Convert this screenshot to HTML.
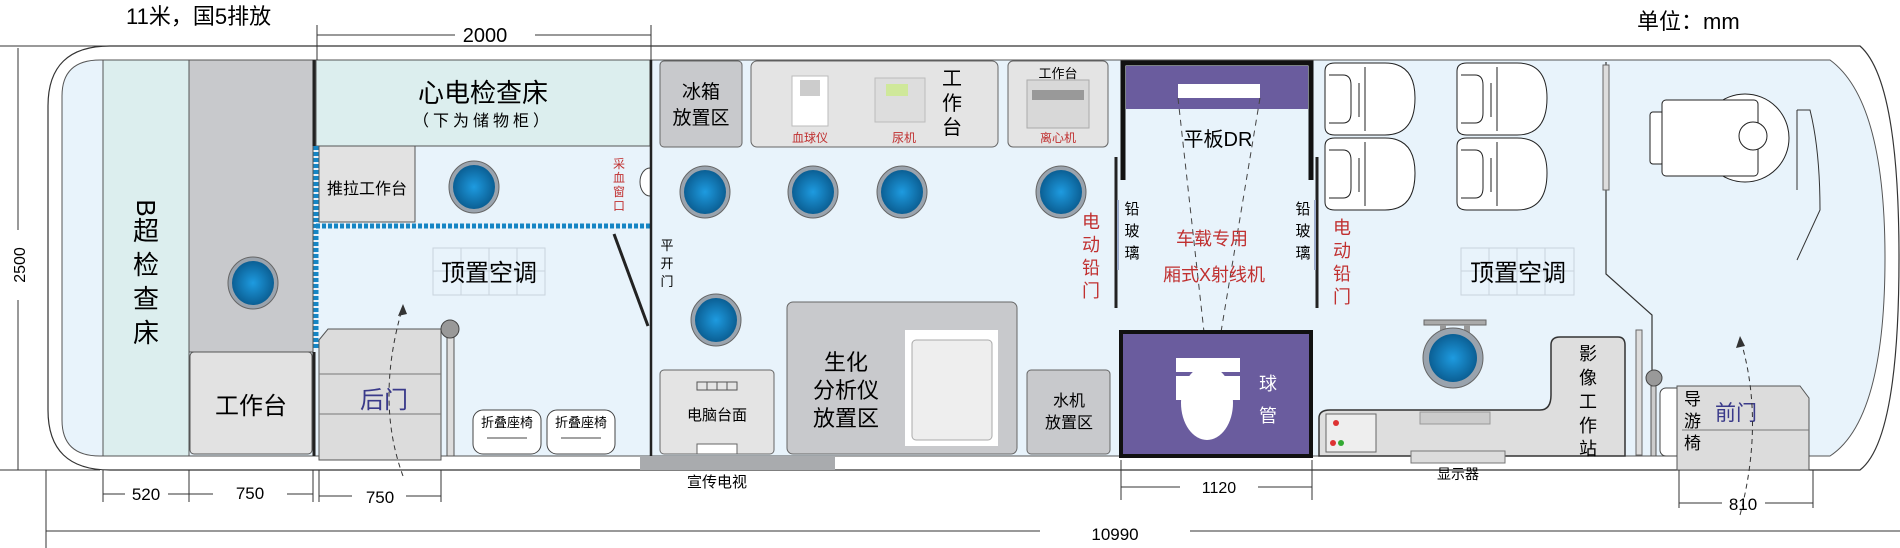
<!DOCTYPE html>
<html><head><meta charset="utf-8"><style>
html,body{margin:0;padding:0;background:#fff;}
svg{display:block;}
text{font-family:"Liberation Sans","Noto Sans CJK SC",sans-serif;}
</style></head><body>
<svg width="1900" height="548" viewBox="0 0 1900 548" xmlns="http://www.w3.org/2000/svg">
<defs>
<radialGradient id="bl" cx="50%" cy="50%" r="50%"><stop offset="0" stop-color="#1e9be0"/><stop offset="1" stop-color="#0b5f94"/></radialGradient>
<g id="lamp"><ellipse cx="0" cy="0" rx="25" ry="26" fill="#9aa3ad" stroke="#666" stroke-width="1"/><ellipse cx="0" cy="0" rx="21" ry="22" fill="url(#bl)"/></g>
<g id="seat"><path d="M0 8 Q0 0 10 0 L60 0 Q90 0 90 35 Q90 72 60 72 L10 72 Q0 72 0 64 Z" fill="#fff" stroke="#222" stroke-width="1"/><path d="M4 12 L18 12 Q26 12 26 22 L26 50 Q26 60 18 60 L4 60" fill="none" stroke="#222"/><line x1="34" y1="20" x2="34" y2="54" stroke="#222"/><line x1="40" y1="4" x2="40" y2="68" stroke="#222"/></g>
</defs>
<rect width="1900" height="548" fill="#fff"/>
<text x="126" y="24" font-size="22" font-family="Liberation Serif,Noto Serif CJK SC,serif">11米，国5排放</text>
<text x="1637" y="29" font-size="22">单位：mm</text>
<path d="M110 46 L1860 46 Q1899 80 1899 258 Q1899 440 1860 470 L110 470 Q48 470 48 410 L48 106 Q48 46 110 46 Z" fill="#fff" stroke="#333" stroke-width="1.2"/>
<path d="M100 60 L1830 60 Q1885 100 1885 258 Q1885 420 1830 456 L100 456 Q62 456 62 420 L62 96 Q62 60 100 60 Z" fill="#e8f3fb" stroke="#555" stroke-width="1"/>
<rect x="103" y="60" width="86" height="396" fill="#dceeee" stroke="#555"/>
<text transform="translate(146,208) rotate(90)" font-size="26" text-anchor="middle" dominant-baseline="central">B</text>
<text x="146" y="240" font-size="26" text-anchor="middle">超</text>
<text x="146" y="274" font-size="26" text-anchor="middle">检</text>
<text x="146" y="308" font-size="26" text-anchor="middle">查</text>
<text x="146" y="342" font-size="26" text-anchor="middle">床</text>
<rect x="189" y="60" width="124" height="292" fill="#c8c9cc" stroke="#555"/>
<use href="#lamp" x="253" y="283"/>
<rect x="190" y="352" width="122" height="102" rx="4" fill="#e2e2e2" stroke="#555"/>
<text x="251" y="414" font-size="24" text-anchor="middle">工作台</text>
<line x1="314" y1="60" x2="314" y2="146" stroke="#222" stroke-width="3"/>
<line x1="314" y1="352" x2="314" y2="456" stroke="#222" stroke-width="3"/>
<rect x="316" y="60" width="334" height="86" fill="#dceeee" stroke="#555"/>
<text x="483" y="102" font-size="26" text-anchor="middle">心电检查床</text>
<text x="483" y="126" font-size="16" text-anchor="middle" letter-spacing="4">（下为储物柜）</text>
<rect x="319" y="146" width="96" height="76" fill="#e2e2e2" stroke="#555"/>
<text x="367" y="194" font-size="16" text-anchor="middle">推拉工作台</text>
<use href="#lamp" x="474" y="187"/>
<text x="619" y="168" font-size="12" fill="#c03030" text-anchor="middle">采</text>
<text x="619" y="182" font-size="12" fill="#c03030" text-anchor="middle">血</text>
<text x="619" y="196" font-size="12" fill="#c03030" text-anchor="middle">窗</text>
<text x="619" y="210" font-size="12" fill="#c03030" text-anchor="middle">口</text>
<path d="M650 168 A10 14 0 0 0 650 196" fill="#fff" stroke="#444"/>
<line x1="316" y1="226" x2="650" y2="226" stroke="#1585c4" stroke-width="5" stroke-dasharray="4 2"/>
<line x1="316" y1="146" x2="316" y2="350" stroke="#1585c4" stroke-width="5" stroke-dasharray="4 2"/>
<g stroke="#c9d3dc" fill="none"><rect x="433" y="248" width="112" height="47"/><line x1="461" y1="248" x2="461" y2="295"/><line x1="489" y1="248" x2="489" y2="295"/><line x1="517" y1="248" x2="517" y2="295"/><line x1="433" y1="271" x2="545" y2="271"/></g>
<text x="489" y="281" font-size="24" text-anchor="middle">顶置空调</text>
<path d="M319 340 L328 329 L441 329 L441 460 L319 460 Z" fill="#dcdcdc" stroke="#555"/>
<line x1="319" y1="374" x2="441" y2="374" stroke="#777"/>
<line x1="319" y1="414" x2="441" y2="414" stroke="#777"/>
<text x="384" y="408" font-size="24" fill="#3a3a8a" text-anchor="middle">后门</text>
<path d="M403 476 Q375 400 403 306" fill="none" stroke="#333" stroke-dasharray="5 4"/>
<path d="M403 304 L398 316 L407 314 Z" fill="#333"/>
<rect x="447" y="332" width="7" height="124" fill="#ddd" stroke="#555"/>
<circle cx="450" cy="329" r="9" fill="#999" stroke="#444"/>
<g fill="#fff" stroke="#444"><rect x="473" y="410" width="68" height="44" rx="10"/><rect x="547" y="410" width="68" height="44" rx="10"/></g>
<line x1="487" y1="438" x2="527" y2="438" stroke="#444"/><line x1="561" y1="438" x2="601" y2="438" stroke="#444"/>
<text x="507" y="427" font-size="13" text-anchor="middle">折叠座椅</text>
<text x="581" y="427" font-size="13" text-anchor="middle">折叠座椅</text>
<line x1="651" y1="60" x2="651" y2="456" stroke="#222" stroke-width="2.5"/>
<line x1="614" y1="234" x2="648" y2="326" stroke="#222" stroke-width="3"/>
<text x="667" y="250" font-size="13" text-anchor="middle">平</text>
<text x="667" y="268" font-size="13" text-anchor="middle">开</text>
<text x="667" y="286" font-size="13" text-anchor="middle">门</text>
<rect x="660" y="61" width="82" height="86" rx="4" fill="#c8c9cc" stroke="#666"/>
<text x="701" y="98" font-size="19" text-anchor="middle">冰箱</text>
<text x="701" y="124" font-size="19" text-anchor="middle">放置区</text>
<rect x="751" y="61" width="247" height="86" rx="6" fill="#e4e4e4" stroke="#666"/>
<rect x="792" y="76" width="36" height="50" fill="#fff" stroke="#bbb"/><rect x="800" y="80" width="20" height="16" fill="#ccc"/>
<rect x="875" y="78" width="50" height="44" fill="#ddd" stroke="#bbb"/><rect x="886" y="84" width="22" height="12" fill="#cfe89a"/>
<text x="810" y="142" font-size="12" fill="#c03030" text-anchor="middle">血球仪</text>
<text x="904" y="142" font-size="12" fill="#c03030" text-anchor="middle">尿机</text>
<text x="952" y="85" font-size="20" text-anchor="middle">工</text>
<text x="952" y="110" font-size="20" text-anchor="middle">作</text>
<text x="952" y="134" font-size="20" text-anchor="middle">台</text>
<rect x="1008" y="61" width="100" height="86" rx="5" fill="#e4e4e4" stroke="#666"/>
<text x="1058" y="78" font-size="13" text-anchor="middle">工作台</text>
<rect x="1027" y="80" width="62" height="48" fill="#d8d8d8" stroke="#aaa"/><rect x="1032" y="90" width="52" height="10" fill="#999"/>
<text x="1058" y="142" font-size="12" fill="#c03030" text-anchor="middle">离心机</text>
<use href="#lamp" x="705" y="192"/><use href="#lamp" x="813" y="192"/><use href="#lamp" x="902" y="192"/><use href="#lamp" x="1061" y="192"/><use href="#lamp" x="716" y="320"/>
<rect x="660" y="370" width="114" height="84" rx="4" fill="#e4e4e4" stroke="#666"/>
<g stroke="#555" fill="none"><rect x="697" y="382" width="40" height="8"/><line x1="707" y1="382" x2="707" y2="390"/><line x1="717" y1="382" x2="717" y2="390"/><line x1="727" y1="382" x2="727" y2="390"/></g>
<text x="717" y="420" font-size="15" text-anchor="middle">电脑台面</text>
<rect x="697" y="444" width="40" height="10" fill="#fff" stroke="#666"/>
<rect x="787" y="302" width="230" height="152" rx="6" fill="#c8c9cc" stroke="#666"/>
<text x="846" y="370" font-size="22" text-anchor="middle">生化</text>
<text x="846" y="398" font-size="22" text-anchor="middle">分析仪</text>
<text x="846" y="426" font-size="22" text-anchor="middle">放置区</text>
<rect x="905" y="330" width="93" height="116" fill="#fff"/>
<rect x="912" y="340" width="80" height="100" rx="4" fill="#eee" stroke="#aaa"/>
<rect x="1027" y="370" width="83" height="84" rx="4" fill="#c8c9cc" stroke="#666"/>
<text x="1069" y="406" font-size="16" text-anchor="middle">水机</text>
<text x="1069" y="428" font-size="16" text-anchor="middle">放置区</text>
<rect x="640" y="456" width="195" height="14" fill="#a9abae"/>
<text x="717" y="487" font-size="15" text-anchor="middle">宣传电视</text>
<text x="1091" y="228" font-size="18" fill="#c03030" text-anchor="middle">电</text>
<text x="1091" y="251" font-size="18" fill="#c03030" text-anchor="middle">动</text>
<text x="1091" y="274" font-size="18" fill="#c03030" text-anchor="middle">铅</text>
<text x="1091" y="297" font-size="18" fill="#c03030" text-anchor="middle">门</text>
<line x1="1116" y1="157" x2="1116" y2="308" stroke="#222" stroke-width="3"/>
<line x1="1118" y1="200" x2="1118" y2="270" stroke="#9ac" stroke-width="2"/>
<text x="1132" y="214" font-size="15" text-anchor="middle">铅</text>
<text x="1132" y="236" font-size="15" text-anchor="middle">玻</text>
<text x="1132" y="258" font-size="15" text-anchor="middle">璃</text>
<path d="M1123 180 L1123 63 L1311 63 L1311 180" fill="none" stroke="#111" stroke-width="5"/>
<rect x="1126" y="66" width="182" height="43" fill="#6a5c9e"/>
<rect x="1178" y="84" width="82" height="14" fill="#fff"/>
<text x="1218" y="146" font-size="20" text-anchor="middle">平板DR</text>
<g stroke="#444" stroke-dasharray="6 5" fill="none"><line x1="1178" y1="98" x2="1206" y2="350"/><line x1="1260" y1="98" x2="1218" y2="350"/></g>
<text x="1212" y="245" font-size="18" fill="#c03030" text-anchor="middle">车载专用</text>
<text x="1214" y="281" font-size="18" fill="#c03030" text-anchor="middle">厢式X射线机</text>
<rect x="1121" y="332" width="190" height="124" fill="#6a5c9e" stroke="#111" stroke-width="4"/>
<rect x="1176" y="358" width="64" height="14" fill="#fff"/>
<rect x="1176" y="376" width="64" height="24" fill="#fff"/>
<ellipse cx="1207" cy="403" rx="26" ry="37" fill="#fff"/>
<text x="1268" y="390" font-size="18" fill="#fff" text-anchor="middle">球</text>
<text x="1268" y="422" font-size="18" fill="#fff" text-anchor="middle">管</text>
<line x1="1317" y1="157" x2="1317" y2="308" stroke="#222" stroke-width="3"/>
<line x1="1315" y1="200" x2="1315" y2="270" stroke="#9ac" stroke-width="2"/>
<text x="1303" y="214" font-size="15" text-anchor="middle">铅</text>
<text x="1303" y="236" font-size="15" text-anchor="middle">玻</text>
<text x="1303" y="258" font-size="15" text-anchor="middle">璃</text>
<text x="1342" y="234" font-size="18" fill="#c03030" text-anchor="middle">电</text>
<text x="1342" y="257" font-size="18" fill="#c03030" text-anchor="middle">动</text>
<text x="1342" y="280" font-size="18" fill="#c03030" text-anchor="middle">铅</text>
<text x="1342" y="303" font-size="18" fill="#c03030" text-anchor="middle">门</text>
<use href="#seat" x="1325" y="63"/><use href="#seat" x="1325" y="138"/><use href="#seat" x="1457" y="63"/><use href="#seat" x="1457" y="138"/>
<g stroke="#c9d3dc" fill="none"><rect x="1461" y="248" width="113" height="47"/><line x1="1489" y1="248" x2="1489" y2="295"/><line x1="1517" y1="248" x2="1517" y2="295"/><line x1="1545" y1="248" x2="1545" y2="295"/><line x1="1461" y1="271" x2="1574" y2="271"/></g>
<text x="1518" y="281" font-size="24" text-anchor="middle">顶置空调</text>
<rect x="1424" y="320" width="62" height="5" fill="#aaa" stroke="#666"/>
<rect x="1440" y="325" width="6" height="12" fill="#999"/><rect x="1464" y="325" width="6" height="12" fill="#999"/>
<circle cx="1453" cy="358" r="30" fill="#9aa3ad" stroke="#666"/><circle cx="1453" cy="358" r="24" fill="url(#bl)"/>
<path d="M1319 456 L1319 418 Q1319 410 1330 410 L1540 410 Q1551 410 1551 395 L1551 345 Q1551 337 1560 337 L1618 337 Q1625 337 1625 345 L1625 456 Z" fill="#dedede" stroke="#333" stroke-width="1.5"/>
<rect x="1326" y="414" width="50" height="38" fill="#eee" stroke="#666"/>
<circle cx="1336" cy="423" r="3" fill="#d33"/><circle cx="1333" cy="443" r="3" fill="#d33"/><circle cx="1341" cy="443" r="3" fill="#3a3"/>
<rect x="1420" y="412" width="70" height="12" fill="#ccc" stroke="#999"/>
<text x="1588" y="360" font-size="18" text-anchor="middle">影</text>
<text x="1588" y="384" font-size="18" text-anchor="middle">像</text>
<text x="1588" y="408" font-size="18" text-anchor="middle">工</text>
<text x="1588" y="432" font-size="18" text-anchor="middle">作</text>
<text x="1588" y="455" font-size="18" text-anchor="middle">站</text>
<rect x="1411" y="451" width="94" height="12" fill="#dcdcdc" stroke="#777"/>
<text x="1458" y="479" font-size="14" text-anchor="middle">显示器</text>
<path d="M1606 62 L1606 274 L1652 315 L1652 456" fill="none" stroke="#333" stroke-width="1.2"/>
<rect x="1603" y="65" width="6" height="125" fill="#ddd" stroke="#666"/>
<rect x="1636" y="330" width="6" height="125" fill="#ddd" stroke="#666"/>
<circle cx="1745" cy="138" r="44" fill="#fff" stroke="#222"/>
<rect x="1650" y="112" width="14" height="52" rx="3" fill="#fff" stroke="#222"/>
<rect x="1662" y="100" width="96" height="76" rx="4" fill="#fff" stroke="#222"/>
<circle cx="1753" cy="136" r="14" fill="#fff" stroke="#222"/>
<path d="M1797 110 L1810 110 Q1820 150 1820 210 L1797 260" fill="none" stroke="#333"/>
<path d="M1797 110 L1797 190" fill="none" stroke="#333"/>
<circle cx="1654" cy="378" r="8" fill="#999" stroke="#444"/>
<rect x="1651" y="386" width="5" height="70" fill="#ccc" stroke="#555"/>
<rect x="1660" y="388" width="22" height="68" rx="6" fill="#fff" stroke="#444"/>
<path d="M1682 386 L1800 386 L1809 398 L1809 470 L1677 470 L1677 386 Z" fill="#dcdcdc" stroke="#555"/>
<line x1="1682" y1="430" x2="1809" y2="430" stroke="#777"/>
<text x="1684" y="405" font-size="17">导</text>
<text x="1684" y="427" font-size="17">游</text>
<text x="1684" y="449" font-size="17">椅</text>
<text x="1736" y="420" font-size="21" fill="#3a3a8a" text-anchor="middle">前门</text>
<path d="M1740 515 Q1765 420 1740 338" fill="none" stroke="#333" stroke-dasharray="5 4"/>
<path d="M1740 336 L1736 348 L1745 346 Z" fill="#333"/>
<g stroke="#333" stroke-width="1" fill="none">
<line x1="317" y1="25" x2="317" y2="60"/><line x1="317" y1="35" x2="455" y2="35"/><line x1="535" y1="35" x2="651" y2="35"/><line x1="651" y1="25" x2="651" y2="60"/>
<line x1="0" y1="46" x2="128" y2="46"/><line x1="0" y1="470" x2="100" y2="470"/>
<line x1="18" y1="48" x2="18" y2="230"/><line x1="18" y1="300" x2="18" y2="470"/>
<line x1="103" y1="470" x2="103" y2="502"/><line x1="189" y1="470" x2="189" y2="502"/><line x1="313" y1="470" x2="313" y2="502"/><line x1="319" y1="470" x2="319" y2="502"/><line x1="441" y1="470" x2="441" y2="502"/>
<line x1="103" y1="494" x2="125" y2="494"/><line x1="168" y1="494" x2="189" y2="494"/><line x1="189" y1="494" x2="213" y2="494"/><line x1="287" y1="494" x2="313" y2="494"/><line x1="319" y1="496" x2="352" y2="496"/><line x1="406" y1="496" x2="441" y2="496"/>
<line x1="46" y1="470" x2="46" y2="548"/><line x1="46" y1="531" x2="1040" y2="531"/><line x1="1190" y1="531" x2="1900" y2="531"/>
<line x1="1121" y1="460" x2="1121" y2="500"/><line x1="1312" y1="460" x2="1312" y2="500"/><line x1="1121" y1="487" x2="1180" y2="487"/><line x1="1258" y1="487" x2="1312" y2="487"/>
<line x1="1679" y1="470" x2="1679" y2="508"/><line x1="1813" y1="470" x2="1813" y2="508"/><line x1="1679" y1="503" x2="1722" y2="503"/><line x1="1765" y1="503" x2="1813" y2="503"/>
</g>
<text x="485" y="42" font-size="20" text-anchor="middle">2000</text>
<text transform="translate(25,265) rotate(-90)" font-size="16" text-anchor="middle">2500</text>
<text x="146" y="500" font-size="17" text-anchor="middle">520</text>
<text x="250" y="499" font-size="17" text-anchor="middle">750</text>
<text x="380" y="503" font-size="17" text-anchor="middle">750</text>
<text x="1115" y="540" font-size="17" text-anchor="middle">10990</text>
<text x="1219" y="493" font-size="16" text-anchor="middle">1120</text>
<text x="1743" y="510" font-size="17" text-anchor="middle">810</text>
</svg>
</body></html>
